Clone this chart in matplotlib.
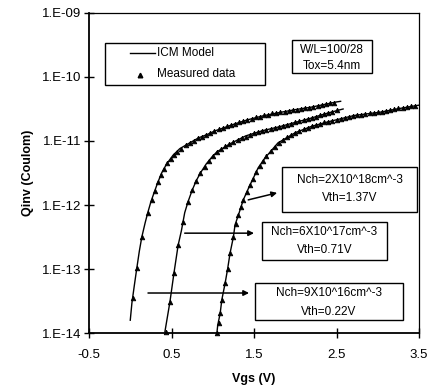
import numpy as np
import matplotlib; matplotlib.use("Agg")
import matplotlib.pyplot as plt
from matplotlib.patches import Rectangle

plt.rcParams["font.family"] = ["Liberation Sans", "DejaVu Sans"]

# ICM model curves (Vgs in V, log10 of Qinv in Coulomb)
model_a_v = [0.00, 0.02, 0.05, 0.08, 0.11, 0.14, 0.18, 0.21, 0.25, 0.28, 0.33, 0.38, 0.44,
             0.52, 0.60, 0.72, 0.83, 0.93, 1.03, 1.12, 1.25, 1.42, 1.60, 1.79, 2.00, 2.20,
             2.35, 2.50, 2.55]
model_a_q = [-13.80, -13.53, -13.25, -12.98, -12.72, -12.50, -12.28, -12.13, -11.95, -11.84,
             -11.66, -11.50, -11.36, -11.22, -11.12, -11.03, -10.95, -10.90, -10.84, -10.80,
             -10.74, -10.67, -10.61, -10.56, -10.51, -10.47, -10.43, -10.39, -10.38]
model_b_v = [0.42, 0.45, 0.48, 0.53, 0.58, 0.62, 0.66, 0.70, 0.75, 0.80, 0.85, 0.92, 0.99,
             1.05, 1.20, 1.40, 1.60, 1.80, 2.00, 2.20, 2.35, 2.52, 2.58]
model_b_q = [-13.98, -13.75, -13.52, -13.06, -12.63, -12.40, -12.12, -11.95, -11.77, -11.62,
             -11.50, -11.36, -11.25, -11.17, -11.05, -10.92, -10.84, -10.78, -10.71, -10.64,
             -10.58, -10.52, -10.50]
model_c_v = [1.05, 1.06, 1.09, 1.11, 1.15, 1.18, 1.21, 1.25, 1.27, 1.31, 1.37, 1.45, 1.51,
             1.55, 1.63, 1.79, 2.00, 2.20, 2.40, 2.72, 3.03, 3.23, 3.50]
model_c_q = [-14.00, -13.88, -13.69, -13.48, -13.22, -13.00, -12.75, -12.50, -12.31, -12.16,
             -11.92, -11.69, -11.53, -11.42, -11.27, -11.03, -10.87, -10.77, -10.70, -10.60,
             -10.55, -10.50, -10.44]

# measured data points
meas_a_v = [0.03, 0.08, 0.14, 0.21, 0.26, 0.30, 0.34, 0.37, 0.41, 0.45, 0.49, 0.53, 0.57,
            0.62, 0.67, 0.72, 0.77, 0.82, 0.87, 0.92, 0.97, 1.02, 1.07, 1.12, 1.17, 1.22,
            1.27, 1.32, 1.37, 1.42, 1.47, 1.52, 1.57, 1.62, 1.67, 1.72, 1.77, 1.82, 1.87,
            1.92, 1.97, 2.02, 2.07, 2.12, 2.17, 2.22, 2.27, 2.32, 2.37, 2.42, 2.47]
meas_a_q = [-13.45, -12.98, -12.50, -12.13, -11.92, -11.78, -11.64, -11.53, -11.43, -11.35,
            -11.28, -11.22, -11.17, -11.12, -11.07, -11.03, -11.00, -10.96, -10.93, -10.90,
            -10.87, -10.85, -10.82, -10.80, -10.77, -10.75, -10.73, -10.71, -10.69, -10.67,
            -10.65, -10.63, -10.62, -10.60, -10.59, -10.57, -10.56, -10.55, -10.54, -10.53,
            -10.52, -10.51, -10.50, -10.49, -10.48, -10.47, -10.45, -10.44, -10.42, -10.41,
            -10.40]
meas_b_v = [0.43, 0.48, 0.53, 0.58, 0.64, 0.70, 0.75, 0.80, 0.85, 0.90, 0.95, 1.00, 1.05,
            1.10, 1.15, 1.20, 1.25, 1.30, 1.35, 1.40, 1.45, 1.50, 1.55, 1.60, 1.65, 1.70,
            1.75, 1.80, 1.85, 1.90, 1.95, 2.00, 2.05, 2.10, 2.15, 2.20, 2.25, 2.30, 2.35,
            2.40, 2.45, 2.50]
meas_b_q = [-13.98, -13.52, -13.06, -12.63, -12.27, -11.95, -11.77, -11.62, -11.50, -11.40,
            -11.31, -11.24, -11.17, -11.12, -11.08, -11.05, -11.02, -10.99, -10.96, -10.93,
            -10.90, -10.88, -10.86, -10.84, -10.83, -10.81, -10.80, -10.78, -10.77, -10.75,
            -10.73, -10.71, -10.69, -10.67, -10.66, -10.64, -10.62, -10.60, -10.58, -10.56,
            -10.54, -10.52]
meas_c_v = [1.05, 1.07, 1.09, 1.11, 1.15, 1.18, 1.21, 1.25, 1.28, 1.31, 1.34, 1.37, 1.41,
            1.45, 1.49, 1.53, 1.57, 1.61, 1.65, 1.70, 1.75, 1.80, 1.85, 1.90, 1.95, 2.00,
            2.05, 2.10, 2.15, 2.20, 2.25, 2.30, 2.35, 2.40, 2.45, 2.50, 2.55, 2.60, 2.65,
            2.70, 2.75, 2.80, 2.85, 2.90, 2.95, 3.00, 3.05, 3.10, 3.15, 3.20, 3.25, 3.30,
            3.35, 3.40, 3.45]
meas_c_q = [-14.00, -13.85, -13.69, -13.48, -13.22, -13.00, -12.75, -12.50, -12.30, -12.16,
            -12.03, -11.92, -11.80, -11.69, -11.59, -11.48, -11.39, -11.31, -11.24, -11.16,
            -11.09, -11.03, -10.98, -10.94, -10.90, -10.87, -10.84, -10.81, -10.79, -10.77,
            -10.75, -10.73, -10.71, -10.70, -10.68, -10.67, -10.65, -10.64, -10.62, -10.61,
            -10.60, -10.59, -10.58, -10.57, -10.56, -10.55, -10.54, -10.53, -10.52, -10.50,
            -10.49, -10.48, -10.47, -10.46, -10.45]

x_ticks = [-0.5, 0.5, 1.5, 2.5, 3.5]
y_ticks = [1e-14, 1e-13, 1e-12, 1e-11, 1e-10, 1e-09]
y_ticklabels = ["1.E-14", "1.E-13", "1.E-12", "1.E-11", "1.E-10", "1.E-09"]

fig = plt.figure(figsize=(4.29, 3.91), dpi=100)
ax = fig.add_axes([0.2075, 0.1483, 0.7692, 0.8185])

for mv, mq in [(model_a_v, model_a_q), (model_b_v, model_b_q), (model_c_v, model_c_q)]:
    ax.plot(mv, 10.0 ** np.array(mq), color="black", lw=1.0, zorder=2)
for dv, dq in [(meas_a_v, meas_a_q), (meas_b_v, meas_b_q), (meas_c_v, meas_c_q)]:
    ax.plot(dv, 10.0 ** np.array(dq), ls="none", marker="^", ms=3.3, mfc="black",
            mec="black", mew=0.6, zorder=3, clip_on=False)

ax.set_yscale("log")
ax.set_xlim(-0.5, 3.5)
ax.set_ylim(1e-14, 1e-09)
ax.set_xticks(x_ticks)
ax.set_xticklabels([f"{t:g}" for t in x_ticks])
ax.set_yticks(y_ticks)
ax.set_yticklabels(y_ticklabels)
ax.yaxis.set_minor_locator(matplotlib.ticker.NullLocator())
ax.tick_params(direction="inout", length=7, width=1.0, labelsize=9.5, pad=2)
ax.tick_params(axis="x", pad=8)
for s in ["left", "bottom"]:
    ax.spines[s].set_linewidth(1.3)
for s in ["top", "right"]:
    ax.spines[s].set_linewidth(0.9)
ax.set_xlabel("Vgs (V)", fontsize=9, weight="bold", labelpad=9)
ax.set_ylabel("Qinv (Coulom)", fontsize=9, weight="bold", labelpad=6)

# legend box
T = ax.transAxes
ax.add_patch(Rectangle((0.048, 0.775), 0.485, 0.131, transform=T, fill=False, lw=1.0,
                       ec="black", zorder=5))
ax.plot([0.124, 0.2], [0.875, 0.875], transform=T, color="black", lw=1.0, zorder=5)
ax.plot([0.155], [0.806], transform=T, marker="^", ms=3.3, color="black", zorder=5)
ax.text(0.206, 0.875, "ICM Model", transform=T, fontsize=8.5, va="center", ha="left")
ax.text(0.206, 0.810, "Measured data", transform=T, fontsize=8.5, va="center", ha="left")

# annotation boxes: (x0, y0, w, h, line1, line2, y1, y2)
boxes = [
    (0.615, 0.8125, 0.243, 0.104, "W/L=100/28", "Tox=5.4nm", 0.884, 0.834),
    (0.585, 0.378, 0.409, 0.141, "Nch=2X10^18cm^-3", "Vth=1.37V", 0.478, 0.422),
    (0.524, 0.228, 0.379, 0.119, "Nch=6X10^17cm^-3", "Vth=0.71V", 0.316, 0.259),
    (0.503, 0.041, 0.449, 0.115, "Nch=9X10^16cm^-3", "Vth=0.22V", 0.125, 0.066),
]
for x0, y0, w, h, l1, l2, ty1, ty2 in boxes:
    ax.add_patch(Rectangle((x0, y0), w, h, transform=T, fill=True, fc="white", lw=1.0,
                           ec="black", zorder=5))
    ax.text(x0 + w / 2, ty1, l1, transform=T, fontsize=8.5, ha="center", va="center", zorder=6)
    ax.text(x0 + w / 2, ty2, l2, transform=T, fontsize=8.5, ha="center", va="center", zorder=6)

# arrows from curves to boxes
arrows = [((1.43, -11.92), (1.78, -11.81)),
          ((0.66, -12.44), (1.50, -12.44)),
          ((0.215, -13.375), (1.44, -13.375))]
for (x1, q1), (x2, q2) in arrows:
    ax.annotate("", xy=(x2, 10 ** q2), xytext=(x1, 10 ** q1),
                arrowprops=dict(arrowstyle="-|>", color="black", lw=1.1,
                                mutation_scale=8, shrinkA=0, shrinkB=0), zorder=6)

fig.savefig("out.png", dpi=100)
